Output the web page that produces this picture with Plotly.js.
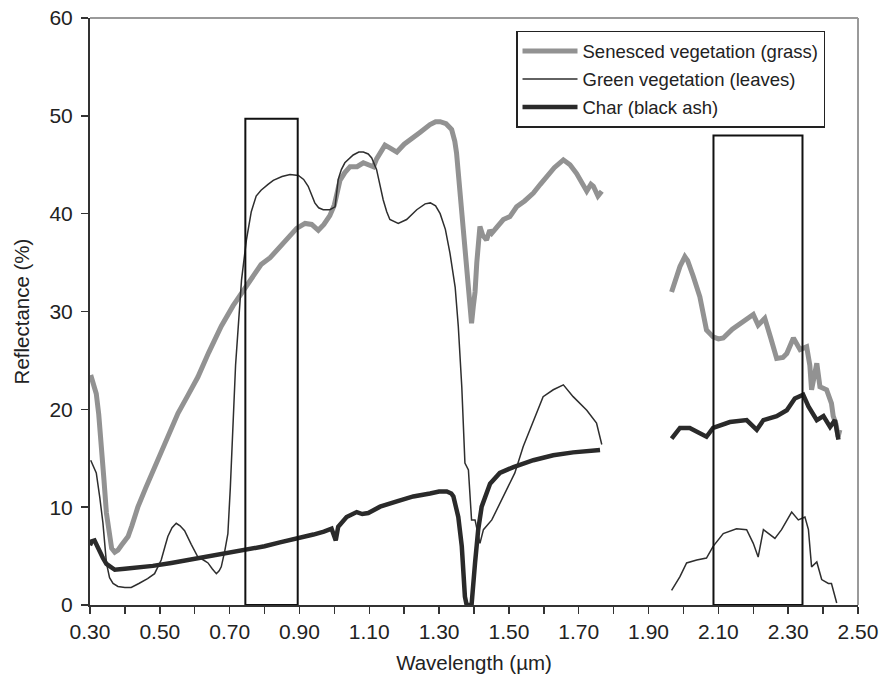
<!DOCTYPE html>
<html>
<head>
<meta charset="utf-8">
<script src="https://cdn.plot.ly/plotly-3.0.1.min.js"></script>
<style>html,body{margin:0;padding:0;background:#fff;}#chart{width:879px;height:674px;}</style>
</head>
<body>
<div id="chart"></div>
<script>
// Senesced vegetation (grass)
const senescedX = [0.302,0.310,0.318,0.325,0.332,0.340,0.347,0.355,0.362,0.371,0.380,0.390,0.400,0.409,0.420,0.437,0.460,0.485,0.510,0.530,0.552,0.580,0.609,0.640,0.676,0.710,0.738,0.760,0.790,0.816,0.850,0.892,0.916,0.935,0.954,0.970,0.987,1.000,1.016,1.030,1.045,1.065,1.083,1.100,1.112,1.121,1.135,1.145,1.160,1.179,1.200,1.217,1.245,1.274,1.290,1.303,1.320,1.336,1.345,1.350,1.358,1.365,1.372,1.379,1.386,1.393,1.398,1.403,1.408,1.412,1.417,1.425,1.436,1.445,1.451,1.465,1.484,1.503,1.522,1.545,1.570,1.590,1.608,1.630,1.656,1.675,1.694,1.710,1.723,1.735,1.742,1.755,1.766,
  1.85,
  1.966,1.980,1.990,2.004,2.012,2.028,2.047,2.066,2.085,2.100,2.114,2.140,2.162,2.185,2.200,2.214,2.233,2.250,2.267,2.285,2.296,2.315,2.334,2.353,2.362,2.367,2.382,2.391,2.410,2.424,2.429,2.437,2.443,2.448];
const senescedY = [23.5,22.6,21.6,19.5,16.9,12.8,9.4,7.0,5.8,5.4,5.6,6.1,6.6,7.0,8.1,10.0,12.0,14.1,16.2,17.8,19.6,21.4,23.3,25.8,28.5,30.6,32.0,33.3,34.8,35.5,36.9,38.5,39.0,38.9,38.3,38.9,39.8,40.9,43.4,44.2,44.8,44.8,45.2,45.0,44.8,45.6,46.5,47.0,46.7,46.3,47.1,47.5,48.3,49.1,49.4,49.4,49.2,48.6,47.4,46.2,43.0,39.4,36.5,33.6,31.0,28.8,30.5,32.0,35.0,37.7,38.7,37.8,37.3,38.3,38.0,38.6,39.4,39.7,40.7,41.3,42.1,43.0,43.8,44.7,45.5,45.0,44.1,43.0,42.3,43.0,42.8,41.8,42.3,
  null,
  32.0,33.5,34.6,35.6,35.2,33.6,31.5,28.1,27.4,27.2,27.3,28.2,28.8,29.4,29.7,28.6,29.3,27.3,25.2,25.3,25.7,27.3,26.1,26.4,24.5,22.0,24.7,22.3,22.0,20.6,19.3,18.5,17.2,17.9];

// Green vegetation (leaves)
const greenX = [0.302,0.310,0.318,0.328,0.337,0.347,0.356,0.366,0.380,0.400,0.418,0.440,0.465,0.485,0.504,0.515,0.523,0.535,0.547,0.558,0.571,0.590,0.609,0.625,0.638,0.650,0.662,0.670,0.676,0.686,0.695,0.702,0.710,0.717,0.724,0.734,0.748,0.762,0.776,0.790,0.810,0.825,0.850,0.873,0.897,0.912,0.925,0.935,0.944,0.955,0.968,0.987,1.002,1.011,1.020,1.030,1.054,1.070,1.083,1.097,1.107,1.121,1.130,1.140,1.150,1.159,1.183,1.207,1.236,1.260,1.275,1.290,1.303,1.318,1.331,1.346,1.355,1.365,1.374,1.384,1.393,1.403,1.417,1.427,1.451,1.474,1.498,1.517,1.541,1.570,1.598,1.627,1.656,1.684,1.723,1.751,1.766,
  1.85,
  1.966,1.990,2.009,2.038,2.066,2.085,2.114,2.152,2.181,2.200,2.214,2.229,2.262,2.281,2.310,2.329,2.348,2.358,2.367,2.382,2.396,2.415,2.424,2.439];
const greenY = [14.8,14.2,13.5,11.0,8.4,4.3,2.8,2.2,1.9,1.8,1.8,2.2,2.7,3.2,4.6,6.0,7.0,7.9,8.35,8.1,7.6,6.2,4.9,4.6,4.3,3.7,3.2,3.5,3.9,5.5,7.3,12.0,19.6,24.5,28.1,33.2,37.3,40.2,41.8,42.4,43.0,43.4,43.8,44.0,43.9,43.5,42.8,42.0,41.1,40.6,40.4,40.4,40.7,43.5,44.5,45.2,46.0,46.3,46.3,46.1,45.7,44.5,43.0,41.4,40.2,39.4,39.0,39.4,40.4,41.0,41.1,40.8,40.0,38.4,36.0,32.5,28.5,22.3,14.5,13.8,8.7,8.7,6.3,7.7,8.7,10.4,12.1,13.5,16.2,18.9,21.3,22.0,22.5,21.3,19.9,18.6,16.4,
  null,
  1.5,2.9,4.3,4.6,4.8,6.0,7.3,7.8,7.7,6.3,4.9,7.7,6.8,7.7,9.5,8.7,9.0,7.7,3.9,4.4,2.6,2.2,2.2,0.2];

// Char (black ash)
const charX = [0.300,0.305,0.313,0.320,0.328,0.337,0.347,0.360,0.371,0.400,0.437,0.480,0.533,0.580,0.629,0.680,0.724,0.760,0.800,0.844,0.897,0.940,0.970,0.992,1.000,1.004,1.011,1.035,1.064,1.080,1.097,1.131,1.179,1.226,1.274,1.300,1.322,1.335,1.341,1.350,1.355,1.365,1.374,1.379,1.393,1.403,1.412,1.422,1.446,1.474,1.513,1.570,1.627,1.684,1.761,
  1.85,
  1.966,1.990,2.018,2.066,2.085,2.133,2.181,2.210,2.229,2.267,2.296,2.319,2.343,2.358,2.382,2.401,2.420,2.434,2.444];
const charY = [6.1,6.5,6.6,6.0,5.5,4.8,4.2,3.8,3.6,3.7,3.8,4.0,4.3,4.6,4.9,5.2,5.45,5.7,6.0,6.4,6.8,7.2,7.5,7.8,7.0,6.6,8.0,9.0,9.5,9.3,9.4,10.05,10.6,11.1,11.4,11.6,11.6,11.4,11.1,10.0,9.0,6.0,0.85,0,0,4.3,7.7,10.05,12.4,13.5,14.1,14.8,15.3,15.6,15.85,
  null,
  17.0,18.1,18.1,17.2,18.1,18.7,18.9,17.9,18.9,19.3,19.9,21.1,21.5,20.3,18.9,19.3,18.2,18.9,16.9];

// Highlighted bands [x0, x1, top]
const bandX0 = [0.745, 2.086];
const bandX1 = [0.895, 2.341];
const bandTop = [49.7, 48];

const xTickVals = [0.3,0.4,0.5,0.6,0.7,0.8,0.9,1.0,1.1,1.2,1.3,1.4,1.5,1.6,1.7,1.8,1.9,2.0,2.1,2.2,2.3,2.4,2.5];
const xTickText = ["0.30","","0.50","","0.70","","0.90","","1.10","","1.30","","1.50","","1.70","","1.90","","2.10","","2.30","","2.50"];
const yTickVals = [0,10,20,30,40,50,60];

const FONT = "Liberation Sans, Arial, Helvetica, sans-serif";

const traces = [
  {x: senescedX, y: senescedY, mode: "lines", name: "Senesced vegetation (grass)", legendgroup: "a",
   line: {color: "#929292", width: 5}, connectgaps: false},
  {x: greenX, y: greenY, mode: "lines", name: "Green vegetation (leaves)", legendgroup: "b",
   line: {color: "#2e2e2e", width: 1.5}, connectgaps: false},
  {x: charX, y: charY, mode: "lines", name: "Char (black ash)", legendgroup: "c",
   line: {color: "#2a2a2a", width: 4.5}, connectgaps: false}
];

const shapes = [];
for (let i = 0; i < bandX0.length; i++) {
  shapes.push({type: "rect", xref: "x", yref: "y", x0: bandX0[i], x1: bandX1[i], y0: 0, y1: bandTop[i],
    line: {color: "#111", width: 2}, fillcolor: "rgba(0,0,0,0)", layer: "above"});
}
shapes.push({type: "line", xref: "paper", yref: "paper", x0: 0, x1: 1, y0: 1, y1: 1, line: {color: "#9a9a9a", width: 2}});
shapes.push({type: "line", xref: "paper", yref: "paper", x0: 1, x1: 1, y0: 0, y1: 1, line: {color: "#9a9a9a", width: 2}});

const layout = {
  width: 879, height: 674,
  margin: {l: 90, r: 21, t: 18, b: 69},
  paper_bgcolor: "#fff", plot_bgcolor: "#fff",
  font: {family: FONT, color: "#222", size: 20},
  showlegend: true,
  legend: {
    x: 0.5547, y: 0.978, xanchor: "left", yanchor: "top",
    bgcolor: "#fff", bordercolor: "#222", borderwidth: 1.5,
    font: {family: FONT, size: 18.5, color: "#222"},
    traceorder: "grouped", tracegroupgap: 1, itemwidth: 55
  },
  xaxis: {
    range: [0.3, 2.5], tickmode: "array", tickvals: xTickVals, ticktext: xTickText,
    ticks: "outside", ticklen: 7, tickwidth: 1.5, tickcolor: "#333",
    showline: true, linecolor: "#333", linewidth: 2, showgrid: false, zeroline: false,
    tickfont: {family: FONT, size: 21, color: "#222"}, ticklabelstandoff: 0,
    title: {text: "Wavelength (\u00b5m)", font: {family: FONT, size: 20.5, color: "#222"}, standoff: 14}
  },
  yaxis: {
    range: [0, 60], tickmode: "array", tickvals: yTickVals,
    ticks: "outside", ticklen: 7, tickwidth: 1.5, tickcolor: "#333",
    showline: true, linecolor: "#333", linewidth: 2, showgrid: false, zeroline: false,
    tickfont: {family: FONT, size: 21, color: "#222"}, ticklabelstandoff: 4,
    title: {text: "Reflectance (%)", font: {family: FONT, size: 20.5, color: "#222"}, standoff: 14}
  },
  shapes: shapes
};

Plotly.newPlot("chart", traces, layout, {displayModeBar: false, staticPlot: true});
</script>
</body>
</html>
